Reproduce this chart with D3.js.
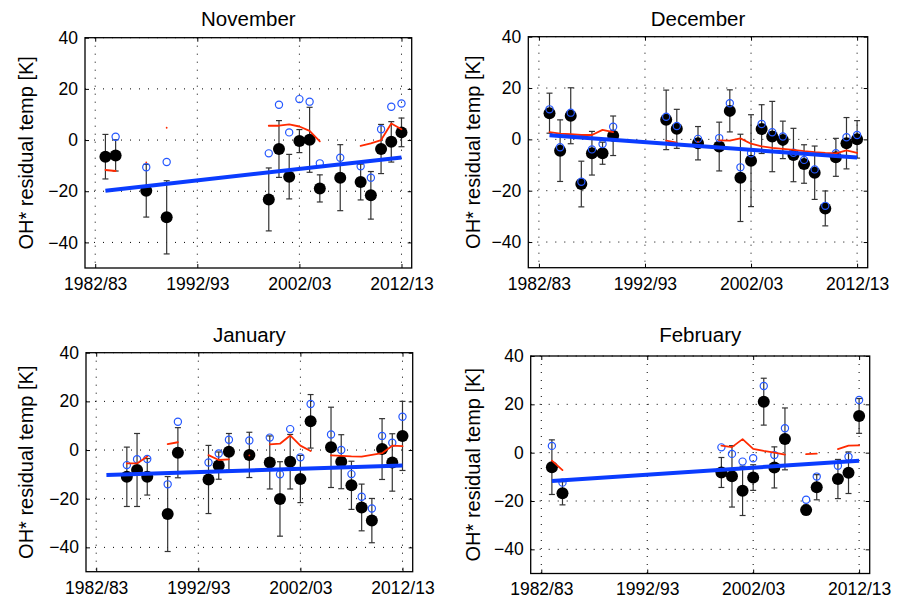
<!DOCTYPE html>
<html>
<head>
<meta charset="utf-8">
<script src="https://cdn.jsdelivr.net/npm/d3@7"></script>
<style>
body { margin: 0; background: #fff; }
text { font-family: "Liberation Sans", Arial, Helvetica, sans-serif; fill: #000; }
</style>
</head>
<body>
<svg id="chart" width="898" height="599"></svg>
<script>
// winter seasons, year = first year of the season (1983 -> 1983/84)
const xTicks = [1982, 1992, 2002, 2012];
const yTicks = [-40, -20, 0, 20, 40];
const trendYears = [1983, 2012];

// November
const years_nov = [1983,1984,1987,1989,1999,2000,2001,2002,2003,2004,2006,2008,2009,2010,2011,2012];
const obs_nov   = [-6.5,-6.0,-19.8,-30.2,-23.2,-3.5,-14.3,-0.4,0.1,-18.9,-14.7,-16.4,-21.6,-3.5,-0.7,3.0];
const err_nov   = [8.7,6.1,10.3,14.3,12.3,11.1,8.7,4.5,12.7,5.3,12.9,7.0,9.3,9.6,7.9,5.6];
const alt_nov   = [null,1.3,-10.6,-8.6,-5.2,13.8,3.0,16.0,15.0,-9.1,-6.9,-10.2,-14.7,4.2,13.0,14.3];
const model_nov = [-11.7,-12.1,-8.7,4.8,5.6,5.6,6.1,5.3,3.6,-0.5,null,-2.3,-1.3,0.0,6.5,4.2];
const trend_nov = [-19.8, -6.8];

// December
const years_dec = [1983,1984,1985,1986,1987,1988,1989,1994,1995,1997,1999,2000,2001,2002,2003,2004,2005,2006,2007,2008,2009,2010,2011,2012];
const obs_dec   = [10.2,-4.4,9.2,-17.4,-5.4,-5.4,1.4,7.6,4.1,-1.5,-2.8,11.1,-15.0,-8.3,4.0,1.1,-0.2,-6.1,-9.6,-13.0,-26.9,-7.0,-1.5,0.0];
const err_dec   = [7.8,12.0,10.9,8.9,8.5,4.3,7.7,11.6,7.6,6.5,9.5,8.2,17.0,17.9,9.5,13.7,7.3,10.4,7.5,10.4,6.8,7.4,10.0,7.3];
const alt_dec   = [11.7,-3.1,10.4,-16.5,-3.9,-1.8,4.9,8.8,5.2,0.2,0.5,14.1,-10.9,-5.4,6.0,2.8,1.1,-5.2,-8.0,-11.7,-25.9,-5.4,0.8,1.7];
const model_dec = [2.8,2.2,2.0,1.7,1.7,3.7,2.8,-0.5,-1.3,-0.9,-0.4,-0.5,0.4,-1.7,-2.7,-3.3,-3.7,-4.1,-4.6,-5.0,-5.3,-5.5,-4.3,-5.3];
const trend_dec = [1.6, -7.1];

// January
const years_jan = [1985,1986,1987,1989,1990,1993,1994,1995,1997,1999,2000,2001,2002,2003,2005,2006,2007,2008,2009,2010,2011,2012];
const obs_jan   = [-11.0,-8.2,-11.0,-26.3,-1.1,-12.1,-6.4,-0.7,-2.0,-5.1,-20.1,-4.8,-11.9,11.8,1.1,-4.8,-14.5,-23.6,-29.0,0.4,-5.1,5.8];
const err_jan   = [12.2,15.0,7.5,15.4,10.3,14.0,5.6,7.5,9.3,10.9,15.3,11.2,9.7,11.0,16.5,11.1,9.9,9.6,9.1,12.5,11.8,14.2];
const alt_jan   = [-6.2,-3.8,-3.7,-14.1,11.6,-5.1,-1.4,4.2,3.9,5.1,-10.0,8.6,-3.0,18.9,6.4,0.0,-9.9,-19.2,-24.0,5.8,3.0,13.7];
const model_jan = [-5.5,-5.5,-2.7,2.4,3.2,-2.1,-4.1,-3.8,-2.2,2.3,2.6,6.0,1.8,-0.4,-2.2,-2.4,-2.6,-2.7,-2.0,-1.3,1.8,1.6];
const trend_jan = [-10.3, -6.4];

// February
const years_feb = [1983,1984,1999,2000,2001,2002,2003,2004,2005,2007,2008,2010,2011,2012];
const obs_feb   = [-6.0,-16.8,-8.2,-9.8,-15.8,-10.3,21.1,-6.1,5.7,-23.7,-14.3,-10.9,-8.3,15.2];
const err_feb   = [11.3,4.8,6.2,12.7,10.2,5.3,9.7,8.5,12.8,2.0,5.2,8.1,8.6,7.2];
const alt_feb   = [2.8,-12.4,2.2,-0.5,-3.7,-2.3,27.6,-1.0,10.1,-19.5,-9.9,-5.4,-1.7,21.8];
const model_feb = [-3.3,-7.2,2.9,2.3,5.6,1.6,0.7,0.0,-0.8,-0.6,-0.4,1.5,2.9,3.0];
const trend_feb = [-11.7, -3.3];


const svg = d3.select('#chart')

const panels = [
    {title: 'November', years: years_nov, obs: obs_nov, err: err_nov, alt: alt_nov, model: model_nov, trend: trend_nov,
     box: {x0: 85, x1: 411.7, y0: 37.7, y1: 268}, titleY: 26, labelX: 33},
    {title: 'December', years: years_dec, obs: obs_dec, err: err_dec, alt: alt_dec, model: model_dec, trend: trend_dec,
     box: {x0: 528.3, x1: 867.7, y0: 36.7, y1: 267.7}, titleY: 26, labelX: 479.5},
    {title: 'January', years: years_jan, obs: obs_jan, err: err_jan, alt: alt_jan, model: model_jan, trend: trend_jan,
     box: {x0: 86, x1: 412.7, y0: 352.7, y1: 571.7}, titleY: 341.5, labelX: 33},
    {title: 'February', years: years_feb, obs: obs_feb, err: err_feb, alt: alt_feb, model: model_feb, trend: trend_feb,
     box: {x0: 530.7, x1: 869.7, y0: 356, y1: 573.5}, titleY: 341.5, labelX: 479.5},
]

const seasonLabel = d => d + '/' + String(d + 1).slice(2)

const styleAxis = (a, size) => {
    a.select('.domain').remove()
    a.attr('font-family', null).attr('font-size', null)
    a.selectAll('text').attr('font-size', size)
    a.selectAll('line').attr('stroke', '#000').attr('stroke-width', 1)
}

const plotPanel = p => {
    const b = p.box
    const x = d3.scaleLinear().domain([1981, 2013]).range([b.x0, b.x1])
    const y = d3.scaleLinear().domain([-50, 40]).range([b.y1, b.y0])
    const g = svg.append('g')

    // dotted grid
    g.selectAll('.vgrid').data(xTicks).enter().append('line')
        .attr('x1', d => x(d)).attr('x2', d => x(d))
        .attr('y1', b.y0).attr('y2', b.y1)
        .attr('stroke', '#000').attr('stroke-width', 1).attr('stroke-dasharray', '1,7')
    g.selectAll('.hgrid').data(yTicks).enter().append('line')
        .attr('x1', b.x0).attr('x2', b.x1)
        .attr('y1', d => y(d)).attr('y2', d => y(d))
        .attr('stroke', '#000').attr('stroke-width', 1).attr('stroke-dasharray', '1,8')

    // axes, ticks pointing inwards on all four sides
    g.append('g').attr('transform', `translate(0,${b.y1})`)
        .call(d3.axisBottom(x).tickValues(xTicks).tickFormat(seasonLabel).tickSizeInner(-4).tickSizeOuter(0).tickPadding(9.5))
        .call(a => styleAxis(a, 17.5))
    g.append('g').attr('transform', `translate(0,${b.y0})`)
        .call(d3.axisTop(x).tickValues(xTicks).tickFormat('').tickSizeInner(-4).tickSizeOuter(0))
        .call(a => styleAxis(a, 17.5))
    g.append('g').attr('transform', `translate(${b.x0},0)`)
        .call(d3.axisLeft(y).tickValues(yTicks).tickSizeInner(-4).tickSizeOuter(0).tickPadding(7))
        .call(a => styleAxis(a, 17.5))
    g.append('g').attr('transform', `translate(${b.x1},0)`)
        .call(d3.axisRight(y).tickValues(yTicks).tickFormat('').tickSizeInner(-4).tickSizeOuter(0))
        .call(a => styleAxis(a, 17.5))

    g.append('rect')
        .attr('x', b.x0).attr('y', b.y0)
        .attr('width', b.x1 - b.x0).attr('height', b.y1 - b.y0)
        .attr('fill', 'none').attr('stroke', '#000').attr('stroke-width', 1.3)

    const pts = p.years.map((yr, i) => ({yr, v: p.obs[i], e: p.err[i], a: p.alt[i]}))

    // error bars
    const bars = g.selectAll('.err').data(pts).enter().append('g')
        .attr('stroke', '#333').attr('stroke-width', 1.2)
    bars.append('line')
        .attr('x1', d => x(d.yr)).attr('x2', d => x(d.yr))
        .attr('y1', d => y(d.v + d.e)).attr('y2', d => y(d.v - d.e))
    bars.append('line')
        .attr('x1', d => x(d.yr) - 3).attr('x2', d => x(d.yr) + 3)
        .attr('y1', d => y(d.v + d.e)).attr('y2', d => y(d.v + d.e))
    bars.append('line')
        .attr('x1', d => x(d.yr) - 3).attr('x2', d => x(d.yr) + 3)
        .attr('y1', d => y(d.v - d.e)).attr('y2', d => y(d.v - d.e))

    g.selectAll('.obs').data(pts).enter().append('circle')
        .attr('cx', d => x(d.yr)).attr('cy', d => y(d.v))
        .attr('r', 6).attr('fill', '#000')

    g.selectAll('.alt').data(pts.filter(d => d.a != null)).enter().append('circle')
        .attr('cx', d => x(d.yr)).attr('cy', d => y(d.a))
        .attr('r', 3.6).attr('fill', 'none').attr('stroke', '#2457ff').attr('stroke-width', 1.2)

    // red series, broken wherever a season is missing
    const modelSeries = d3.range(1983, 2013).map(yr => {
        const i = p.years.indexOf(yr)
        return {yr, v: i < 0 ? null : p.model[i]}
    })
    const line = d3.line().defined(d => d.v != null).x(d => x(d.yr)).y(d => y(d.v))
    g.append('path')
        .attr('d', line(modelSeries))
        .attr('fill', 'none').attr('stroke', '#ff2a00').attr('stroke-width', 1.8)
        .attr('stroke-linecap', 'round').attr('stroke-linejoin', 'round')

    // linear trend
    g.append('path')
        .attr('d', line(trendYears.map((yr, i) => ({yr, v: p.trend[i]}))))
        .attr('fill', 'none').attr('stroke', '#0a3cff').attr('stroke-width', 4)

    g.append('text')
        .attr('x', (b.x0 + b.x1) / 2).attr('y', p.titleY)
        .attr('text-anchor', 'middle').attr('font-size', 20.5)
        .text(p.title)

    g.append('text')
        .attr('transform', `translate(${p.labelX},${(b.y0 + b.y1) / 2}) rotate(-90)`)
        .attr('text-anchor', 'middle').attr('font-size', 20)
        .text('OH* residual temp [K]')
}

panels.forEach(plotPanel)
</script>
</body>
</html>
